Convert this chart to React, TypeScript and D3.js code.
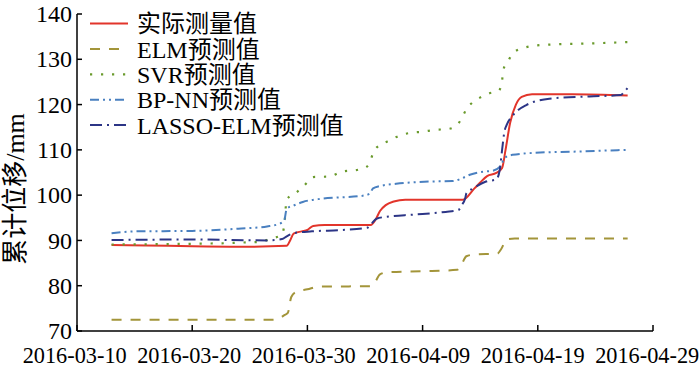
import React from "react";
import * as d3 from "d3";

const startDate = Date.UTC(2016, 2, 10);
const endDate = Date.UTC(2016, 3, 29);
const xTickLabels = ["2016-03-10", "2016-03-20", "2016-03-30", "2016-04-09", "2016-04-19", "2016-04-29"];
const yTicks = [70, 80, 90, 100, 110, 120, 130, 140];

// day offsets from 2016-03-10 and values (mm)
const actualDays = [3, 6, 10, 14, 18.2, 18.5, 18.8, 19.5, 20.0, 20.5, 21.5, 25.5, 25.9, 26.3, 26.8, 27.5, 28.5, 33.5, 34.5, 35, 35.6, 36.4, 36.9, 37.2, 37.6, 38.1, 38.6, 39.5, 43, 47.8];
const actualValues = [89.0, 88.9, 88.7, 88.6, 88.8, 90, 91.5, 92.0, 92.3, 93.2, 93.4, 93.4, 94.5, 96.5, 97.8, 98.6, 99.0, 99.0, 101.5, 102.8, 104.2, 104.9, 106, 110, 116, 120, 121.7, 122.3, 122.3, 122.0];

const elmDays = [3, 17, 17.5, 18.0, 18.3, 18.6, 19.0, 20, 21, 25.5, 25.8, 26.3, 27, 30, 33, 33.3, 33.8, 34.5, 36.5, 36.8, 37.3, 38, 47.8];
const elmValues = [72.5, 72.5, 72.7, 73.5, 74.0, 77.5, 78.6, 79.2, 79.8, 79.9, 80.5, 82.5, 83.0, 83.2, 83.5, 84.3, 86.5, 86.9, 87.1, 88, 90.2, 90.4, 90.4];

const svrDays = [3, 8, 11, 13, 15, 16, 16.7, 17.75, 18.0, 18.2, 19.05, 19.6, 20.2, 20.5, 21.9, 23.0, 24.4, 25.0, 25.4, 25.7, 26.3, 26.9, 27.6, 28.3, 29.1, 30, 31, 32.2, 33, 33.4, 33.8, 34.3, 35.1, 35.8, 36.6, 36.9, 37, 37.4, 37.9, 38.9, 39.7, 41.5, 44.5, 47.8];
const svrValues = [89.1, 89.2, 89.3, 89.4, 89.6, 89.7, 90.3, 91.2, 93.5, 99, 100.6, 101.8, 103.4, 104, 104.1, 105.2, 105.6, 106, 107.1, 109.3, 111.1, 111.8, 112.7, 113.4, 113.8, 114, 114.4, 114.6, 115.5, 117, 119, 120.4, 121.7, 122.5, 123, 125.3, 127.6, 129.5, 131.5, 132.6, 133, 133.3, 133.5, 133.8];

const bpDays = [3, 5, 10, 14, 16.5, 17.6, 18.0, 18.2, 18.8, 19.6, 21.2, 22.8, 24.6, 25.4, 25.7, 26.3, 27.7, 30.6, 32.6, 33.4, 34.1, 35, 36.1, 36.8, 37.1, 37.8, 40.2, 43, 47.7];
const bpValues = [91.6, 92.0, 92.1, 92.6, 93.1, 93.7, 94.5, 97.0, 97.7, 98.5, 99.2, 99.5, 99.8, 100.3, 101.5, 102, 102.5, 103, 103.1, 103.7, 104.5, 105.1, 105.4, 106.5, 108.2, 108.9, 109.4, 109.6, 110.0];

const lassoDays = [3, 10, 16.5, 17.8, 18.2, 18.8, 20.4, 23, 25.2, 25.5, 26, 27.1, 29.2, 32, 33.1, 33.4, 33.7, 33.8, 34.4, 35.5, 36.4, 36.7, 36.9, 37.1, 37.3, 37.8, 38.3, 39.0, 41, 44.5, 47.2, 47.5, 47.8];
const lassoValues = [90.1, 90.2, 90.0, 90.3, 90.9, 91.6, 92.0, 92.3, 92.8, 93.5, 94.8, 95.3, 95.7, 96.3, 96.7, 97.8, 99.3, 100.4, 101.5, 103, 103.5, 105.6, 110, 114, 115.5, 117.5, 118.8, 119.9, 121.3, 121.8, 122.1, 122.8, 123.7];

const seriesNames = ["实际测量值", "ELM预测值", "SVR预测值", "BP-NN预测值", "LASSO-ELM预测值"];

const W = 700, H = 370;
const M = { left: 77, right: 653, top: 14, bottom: 331 };
const serif = "'Liberation Serif', 'Times New Roman', serif";
const cjk = "'Liberation Serif', 'Noto Sans CJK SC', serif";

export default function App() {
  const x = d3.scaleUtc().domain([new Date(startDate), new Date(endDate)]).range([M.left, M.right]);
  const y = d3.scaleLinear().domain([70, 140]).range([M.bottom, M.top]);
  const toDate = (d: number) => new Date(startDate + d * 86400000);
  const line = d3.line<[number, number]>().x((p) => x(toDate(p[0]))).y((p) => y(p[1])).curve(d3.curveMonotoneX);
  const zip = (a: number[], b: number[]) => a.map((d, i) => [d, b[i]] as [number, number]);

  const series = [
    { name: seriesNames[0], data: zip(actualDays, actualValues), color: "#e2352b", dash: "none", w: 2 },
    { name: seriesNames[1], data: zip(elmDays, elmValues), color: "#a3953a", dash: "10,9", w: 2 },
    { name: seriesNames[2], data: zip(svrDays, svrValues), color: "#6a9a2c", dash: "2.2,8.8", w: 2.2 },
    { name: seriesNames[3], data: zip(bpDays, bpValues), color: "#4a80c0", dash: "9,4,2,4,2,4", w: 2 },
    { name: seriesNames[4], data: zip(lassoDays, lassoValues), color: "#2c3586", dash: "12,5,2,5", w: 2 },
  ];
  const xTicks = xTickLabels.map((s) => d3.utcParse("%Y-%m-%d")(s) as Date);
  const fmt = d3.utcFormat("%Y-%m-%d");

  return (
    <svg width={W} height={H} style={{ position: "absolute", left: 0, top: 0, background: "#fff" }}>
      {series.map((s) => (
        <path key={s.name} d={line(s.data) || ""} fill="none" stroke={s.color} strokeWidth={s.w}
          strokeDasharray={s.dash} />
      ))}
      {/* axes */}
      <line x1={M.left} x2={M.left} y1={M.top} y2={M.bottom} stroke="#000" strokeWidth={1.5} />
      <line x1={M.left} x2={M.right} y1={M.bottom} y2={M.bottom} stroke="#000" strokeWidth={1.5} />
      {yTicks.map((t) => (
        <g key={t}>
          <line x1={M.left} x2={M.left + 5} y1={y(t)} y2={y(t)} stroke="#000" strokeWidth={1.5} />
          <text x={72} y={y(t)} dy="0.34em" textAnchor="end" fontFamily={serif} fontSize={24}>{t}</text>
        </g>
      ))}
      {xTicks.map((t, i) => (
        <g key={t.getTime()}>
          <line x1={x(t)} x2={x(t)} y1={M.bottom} y2={M.bottom - 6} stroke="#000" strokeWidth={1.5} />
          <text x={x(t) - 2.3 - i * 0.7} y={363} textAnchor="middle" fontFamily={serif} fontSize={22.3}>{fmt(t)}</text>
        </g>
      ))}
      <text transform="translate(24,189) rotate(-90)" textAnchor="middle" fontFamily={cjk} fontSize={26}>累计位移/mm</text>
      {/* legend */}
      {series.map((s, i) => {
        const ly = 23.5 + i * 25.4;
        return (
          <g key={"lg" + s.name}>
            <line x1={90} x2={128} y1={ly} y2={ly} stroke={s.color} strokeWidth={s.w} strokeDasharray={s.dash} />
            <text x={137} y={ly} dy="0.36em" fontFamily={cjk} fontSize={24}>{s.name}</text>
          </g>
        );
      })}
    </svg>
  );
}
